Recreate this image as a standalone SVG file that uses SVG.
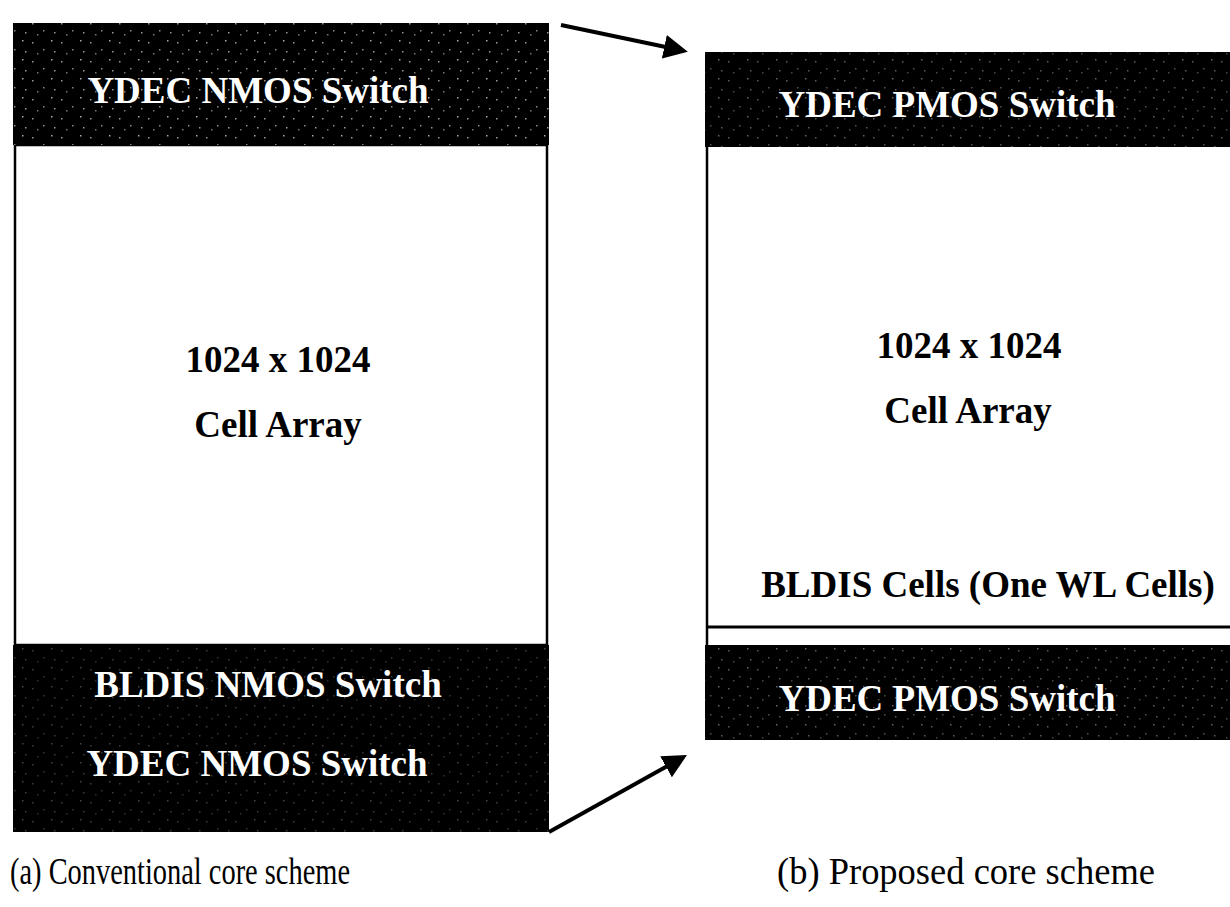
<svg xmlns="http://www.w3.org/2000/svg" width="1230" height="907" viewBox="0 0 1230 907">
<style>
.band{fill:#000}
.noise{fill:url(#speck)}
.wt{font-family:"Liberation Serif","Times New Roman",serif;font-weight:bold;font-size:37px;fill:#fff;text-anchor:middle}
.bt{font-family:"Liberation Serif","Times New Roman",serif;font-weight:bold;font-size:37px;fill:#000;text-anchor:middle}
.cap{font-family:"Liberation Serif","Times New Roman",serif;font-size:38px;fill:#000}
.edge{stroke:#000;stroke-width:2.5;fill:none}
.conn{stroke:#000;stroke-width:4;fill:none;marker-end:url(#ah)}
</style>
<defs>
<pattern id="speck" width="29" height="19" patternUnits="userSpaceOnUse">
<rect x="3" y="4" width="1.5" height="1.5" fill="#999"/>
<rect x="14" y="11" width="1.5" height="1.5" fill="#888"/>
<rect x="22" y="2" width="1.5" height="1.5" fill="#aaa"/>
<rect x="8" y="15" width="1.5" height="1.5" fill="#777"/>
<rect x="25" y="13" width="1.5" height="1.5" fill="#999"/>
</pattern>
<marker id="ah" markerWidth="6" markerHeight="6" refX="4" refY="3" orient="auto" markerUnits="strokeWidth">
<path d="M0,0 L6,3 L0,6 z" fill="#000"/>
</marker>
</defs>
<rect width="1230" height="907" fill="#fff"/>

<g id="left-core">
<rect x="15" y="145" width="532" height="500" fill="#fff" class="edge"/>
<text class="bt" x="278" y="372">1024 x 1024</text>
<text class="bt" x="278" y="437">Cell Array</text>
</g>
<g id="left-top-ydec">
<rect class="band" x="13" y="23" width="536" height="122"/>
<rect class="noise" x="13" y="23" width="536" height="122"/>
<text class="wt" x="258" y="103">YDEC NMOS Switch</text>
</g>
<g id="left-bottom">
<rect class="band" x="13" y="645" width="536" height="187"/>
<rect class="noise" x="13" y="645" width="536" height="187" opacity="0.4"/>
<text class="wt" x="268" y="697">BLDIS NMOS Switch</text>
<text class="wt" x="257" y="776">YDEC NMOS Switch</text>
</g>

<g id="right-core">
<line class="edge" x1="707" y1="147" x2="707" y2="645"/>
<text class="bt" x="969" y="358">1024 x 1024</text>
<text class="bt" x="968" y="423">Cell Array</text>
<text class="bt" x="988" y="597">BLDIS Cells (One WL Cells)</text>
<line x1="706" y1="627" x2="1230" y2="627" stroke="#000" stroke-width="3"/>
</g>
<g id="right-top-ydec">
<rect class="band" x="705" y="52" width="525" height="95"/>
<rect class="noise" x="705" y="52" width="525" height="95" opacity="0.6"/>
<text class="wt" x="947" y="117">YDEC PMOS Switch</text>
</g>
<g id="right-bottom-ydec">
<rect class="band" x="705" y="645" width="525" height="95"/>
<rect class="noise" x="705" y="645" width="525" height="95" opacity="0.6"/>
<text class="wt" x="947" y="711">YDEC PMOS Switch</text>
</g>

<g id="connectors">
<line class="conn" x1="561" y1="25" x2="680" y2="50"/>
<line class="conn" x1="549" y1="832" x2="680" y2="759"/>
</g>

<g id="captions">
<text class="cap" x="10" y="884" textLength="340" lengthAdjust="spacingAndGlyphs">(a) Conventional core scheme</text>
<text class="cap" x="777" y="884" textLength="378" lengthAdjust="spacingAndGlyphs">(b) Proposed core scheme</text>
</g>
</svg>
